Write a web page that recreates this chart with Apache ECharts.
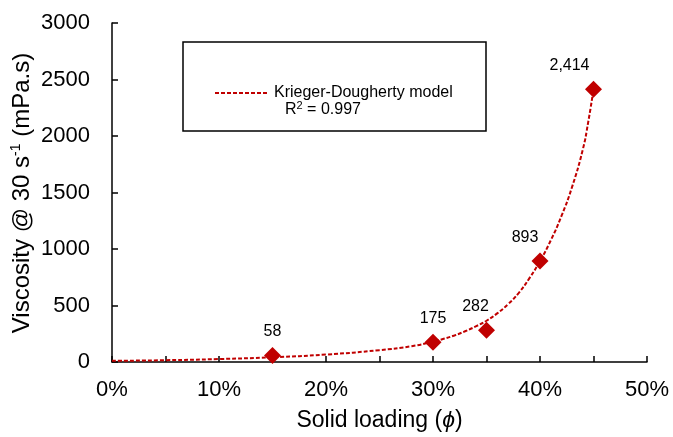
<!DOCTYPE html>
<html>
<head>
<meta charset="utf-8">
<title>Viscosity vs solid loading</title>
<script src="https://cdn.jsdelivr.net/npm/echarts@6/dist/echarts.min.js"></script>
<style>
  html, body { margin: 0; padding: 0; background: #fff; }
  #chart { width: 673px; height: 437px; }
</style>
</head>
<body>
<div id="chart"></div>
<script>
// Measured viscosity at each solid loading (%)
var loadings = [15, 30, 35, 40, 45];
var viscosity = [58, 175, 282, 893, 2414];

// Krieger-Dougherty fitted curve, sampled along the loading axis
var modelLoadings = [0, 5, 10, 15, 20, 25, 28, 30, 31, 32, 33, 34, 35, 36, 37, 38, 39, 40, 41, 42, 43, 44, 44.5, 45];
var modelViscosity = [10, 16, 26, 42, 66, 105, 140, 180, 205, 235, 272, 315, 365, 430, 510, 610, 740, 893, 1075, 1290, 1550, 1880, 2120, 2414];

// Axis ticks
var xTicks = [0, 10, 20, 30, 40, 50];
var yTicks = [0, 500, 1000, 1500, 2000, 2500, 3000];

var modelName = 'Krieger-Dougherty model';
var rSquared = '0.997';

var FONT = '"Liberation Sans", Arial, Helvetica, sans-serif';
var RED = '#C00000';
var DASH = [4, 2];

// horizontal nudges for value labels near the steep part of the curve
var labelShift = [0, 0, -11, -15, -24];

var pointData = loadings.map(function (x, i) {
  return {
    value: [x, viscosity[i]],
    label: { offset: [labelShift[i], 0] }
  };
});
var modelData = modelLoadings.map(function (x, i) { return [x, modelViscosity[i]]; });

var axisLine = { show: true, lineStyle: { color: '#000', width: 1.5 } };
var axisTick = { show: true, inside: true, length: 6, lineStyle: { color: '#000', width: 1.5 } };

var chart = echarts.init(document.getElementById('chart'), null, { renderer: 'canvas' });

chart.setOption({
  backgroundColor: '#fff',
  animation: false,
  textStyle: { fontFamily: FONT },
  grid: { left: 112, right: 26, top: 23, bottom: 73, containLabel: false },
  xAxis: {
    type: 'value',
    min: xTicks[0],
    max: xTicks[xTicks.length - 1],
    interval: 5,
    axisLine: axisLine,
    axisTick: axisTick,
    splitLine: { show: false },
    axisLabel: {
      margin: 17,
      fontSize: 22,
      color: '#000',
      fontFamily: FONT,
      formatter: function (v) {
        return xTicks.indexOf(v) >= 0 ? v + '%' : '';
      }
    },
    name: 'Solid loading ({i|ϕ})',
    nameLocation: 'middle',
    nameGap: 47,
    nameTextStyle: {
      fontSize: 23,
      color: '#000',
      fontFamily: FONT,
      rich: { i: { fontSize: 23, fontStyle: 'italic', fontFamily: FONT, color: '#000' } }
    }
  },
  yAxis: {
    type: 'value',
    min: yTicks[0],
    max: yTicks[yTicks.length - 1],
    interval: 500,
    axisLine: axisLine,
    axisTick: axisTick,
    splitLine: { show: false },
    axisLabel: {
      margin: 22,
      fontSize: 22,
      color: '#000',
      fontFamily: FONT,
      formatter: function (v) { return String(v); }
    }
  },
  graphic: [
    // y-axis title, rotated to read bottom-to-top
    {
      type: 'text',
      silent: true,
      x: 22,
      y: 193,
      rotation: Math.PI / 2,
      style: {
        text: 'Viscosity @ 30 s{sup|-1} (mPa.s)',
        align: 'center',
        verticalAlign: 'middle',
        fontSize: 24,
        lineHeight: 26,
        fill: '#000',
        fontFamily: FONT,
        rich: {
          sup: { fontSize: 14, lineHeight: 26, verticalAlign: 'top', fontFamily: FONT, fill: '#000' }
        }
      }
    },
    // legend frame
    {
      type: 'rect',
      z: 1,
      silent: true,
      shape: { x: 183, y: 42, width: 303, height: 89 },
      style: { fill: 'rgba(0,0,0,0)', stroke: '#000', lineWidth: 1.5 }
    },
    // legend key: dashed model line
    {
      type: 'line',
      z: 2,
      silent: true,
      shape: { x1: 215, y1: 93, x2: 268, y2: 93 },
      style: { stroke: RED, lineWidth: 2, lineDash: DASH }
    },
    {
      type: 'text',
      z: 2,
      silent: true,
      x: 274,
      y: 93,
      style: {
        text: modelName,
        verticalAlign: 'middle',
        fontSize: 16,
        fill: '#000',
        fontFamily: FONT
      }
    },
    {
      type: 'text',
      z: 2,
      silent: true,
      x: 285,
      y: 110,
      style: {
        text: 'R{sup|2} = ' + rSquared,
        verticalAlign: 'middle',
        fontSize: 16,
        lineHeight: 20,
        fill: '#000',
        fontFamily: FONT,
        rich: { sup: { fontSize: 11, lineHeight: 20, verticalAlign: 'top', fontFamily: FONT, fill: '#000' } }
      }
    }
  ],
  series: [
    {
      name: modelName,
      type: 'line',
      data: modelData,
      smooth: 0.5,
      symbol: 'none',
      z: 2,
      lineStyle: { color: RED, width: 2, type: DASH },
      itemStyle: { color: RED }
    },
    {
      name: 'Measured',
      type: 'scatter',
      data: pointData,
      symbol: 'diamond',
      symbolSize: 17,
      z: 3,
      itemStyle: { color: RED, opacity: 1 },
      label: {
        show: true,
        position: 'top',
        distance: 7,
        fontSize: 16,
        color: '#000',
        fontFamily: FONT,
        formatter: function (p) { return p.value[1].toLocaleString('en-US'); }
      }
    }
  ]
});
</script>
</body>
</html>
